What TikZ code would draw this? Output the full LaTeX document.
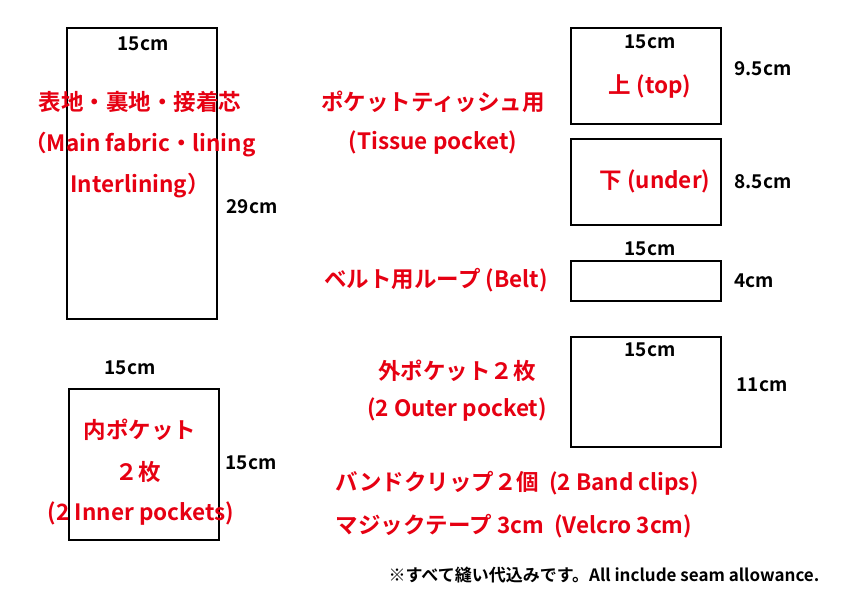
\documentclass[tikz,border=0pt]{standalone}
\usepackage{fontspec}
\setmainfont{Noto Sans CJK JP}[UprightFont=* Bold]
\definecolor{partred}{RGB}{230,0,18}
\tikzset{
  piece/.style={draw, line width=1.5pt},
  dim/.style={inner sep=0pt, font=\fontsize{19}{19}\selectfont},
  part/.style={inner sep=0pt, text=partred, font=\fontsize{22.5}{22.5}\selectfont},
}
\begin{document}
\begin{tikzpicture}[x=1pt, y=-1pt]
  \useasboundingbox (0,0) rectangle (842,595);

  % pattern pieces
  \draw[piece] (67,28) rectangle (217,319);
  \draw[piece] (571,28) rectangle (721,124);
  \draw[piece] (571,139) rectangle (721,225);
  \draw[piece] (571,261) rectangle (721,301);
  \draw[piece] (571,337) rectangle (721,447);
  \draw[piece] (69,389) rectangle (219,540);

  % main fabric
  \node[dim] (mainw) at (143,44) {15cm};
  \node[dim] (mainh) at (252,207) {29cm};
  \node[part] (main1) at (140,102) {表地・裏地・接着芯};
  \node[part] (main2) at (140,145) {（Main fabric・lining};
  \node[part] (main3) at (140,186) {Interlining）};

  % tissue pocket
  \node[part] (tis1) at (433,102) {ポケットティッシュ用};
  \node[part] (tis2) at (433,143) {(Tissue pocket)};
  \node[dim] (topw) at (650,42) {15cm};
  \node[part] (top) at (650,86) {上 (top)};
  \node[dim] (toph) at (763,69) {9.5cm};
  \node[part] (under) at (655,181) {下 (under)};
  \node[dim] (underh) at (763,182) {8.5cm};

  % belt
  \node[part] (belt) at (436,280) {ベルト用ループ (Belt)};
  \node[dim] (beltw) at (650,249) {15cm};
  \node[dim] (belth) at (754,281) {4cm};

  % outer pocket
  \node[part] (out1) at (457,371) {外ポケット２枚};
  \node[part] (out2) at (457,410) {(2 Outer pocket)};
  \node[dim] (outw) at (650,350) {15cm};
  \node[dim] (outh) at (762,385) {11cm};

  % inner pocket
  \node[dim] (inw) at (130,368) {15cm};
  \node[dim] (inh) at (251,463) {15cm};
  \node[part] (in1) at (140,430) {内ポケット};
  \node[part] (in2) at (138,472) {２枚};
  \node[part] (in3) at (141,514) {(2 Inner pockets)};

  % notes
  \node[part] (clip) at (517,483) {バンドクリップ２個~ (2 Band clips)};
  \node[part] (velcro) at (514,526) {マジックテープ 3cm~ (Velcro 3cm)};
  \node[dim, font=\fontsize{17}{17}\selectfont] (note) at (604,575) {※すべて縫い代込みです。All include seam allowance.};
\end{tikzpicture}
\end{document}
